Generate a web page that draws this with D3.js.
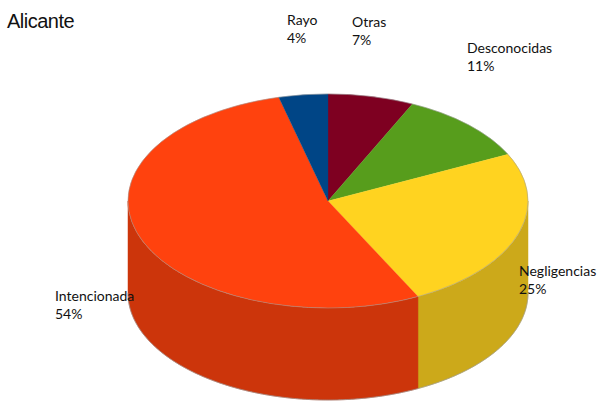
<!DOCTYPE html>
<html>
<head>
<meta charset="utf-8">
<script src="https://cdn.jsdelivr.net/npm/d3@7"></script>
<style>
  html, body { margin: 0; padding: 0; background: #fff; overflow: hidden; }
</style>
</head>
<body>
<div id="chart"></div>
<script>
const categories = ['Otras', 'Desconocidas', 'Negligencias', 'Intencionada', 'Rayo'];
const values = [7, 11, 25, 54, 4];
const topColors = ['#7e0021', '#579d1c', '#ffd320', '#ff420e', '#004586'];
const sideColors = ['#65001a', '#467e16', '#cca91a', '#cc350b', '#00376b'];
const title = 'Alicante';

const width = 602;
const height = 401;
const cx = 328;
const cy = 201;
const rx = 200;
const ry = 107;
const depth = 92;

const svg = d3.select('#chart')
  .append('svg')
  .attr('width', width)
  .attr('height', height);

const pie = d3.pie().sort(null).value((d) => d)(values);

// side wall, only the front half of the ellipse can be seen
const side = d3.area()
  .x((t) => cx + rx * Math.sin(t))
  .y0((t) => cy - ry * Math.cos(t))
  .y1((t) => cy - ry * Math.cos(t) + depth);

const wall = svg.append('g');
pie.forEach((d, i) => {
  const a0 = Math.max(d.startAngle, Math.PI / 2);
  const a1 = Math.min(d.endAngle, Math.PI * 1.5);
  if (a1 <= a0) return;
  const steps = d3.range(a0, a1, 0.01).concat([a1]);
  wall.append('path')
    .attr('d', side(steps))
    .attr('fill', sideColors[i])
    .attr('stroke', sideColors[i])
    .attr('stroke-width', 0.5);
});

// soft grey outline round the body
const outline = d3.range(Math.PI / 2, Math.PI * 1.5, 0.01).concat([Math.PI * 1.5]);
wall.append('path')
  .attr('d', d3.line()
    .x((t) => cx + rx * Math.sin(t))
    .y((t) => cy - ry * Math.cos(t) + depth)(outline))
  .attr('fill', 'none')
  .attr('stroke', '#999')
  .attr('stroke-width', 0.7);

const arc = d3.arc().innerRadius(0).outerRadius(rx);

const topFace = svg.append('g')
  .attr('transform', `translate(${cx},${cy}) scale(1,${ry / rx})`);

topFace.selectAll('.slice')
  .data(pie)
  .enter()
  .append('path')
  .attr('class', 'slice')
  .attr('d', arc)
  .attr('fill', (d, i) => topColors[i])
  .attr('stroke', (d, i) => topColors[i])
  .attr('stroke-width', 0.4);

topFace.append('ellipse')
  .attr('rx', rx)
  .attr('ry', rx)
  .attr('fill', 'none')
  .attr('stroke', '#999')
  .attr('stroke-width', 0.7);

svg.append('text')
  .attr('x', 7)
  .attr('y', 28)
  .attr('font-family', 'Liberation Sans')
  .attr('font-size', 20)
  .attr('letter-spacing', -0.5)
  .attr('fill', '#111')
  .text(title);

const labelX = [352, 467, 519, 55, 287];
const labelY = [27, 53, 276, 301, 25];

categories.forEach((c, i) => {
  const t = svg.append('text')
    .attr('font-family', 'Lato')
    .attr('font-size', 14)
    .attr('fill', '#111');
  t.append('tspan').attr('x', labelX[i]).attr('y', labelY[i]).text(c);
  t.append('tspan').attr('x', labelX[i]).attr('y', labelY[i] + 18).text(values[i] + '%');
});
</script>
</body>
</html>
